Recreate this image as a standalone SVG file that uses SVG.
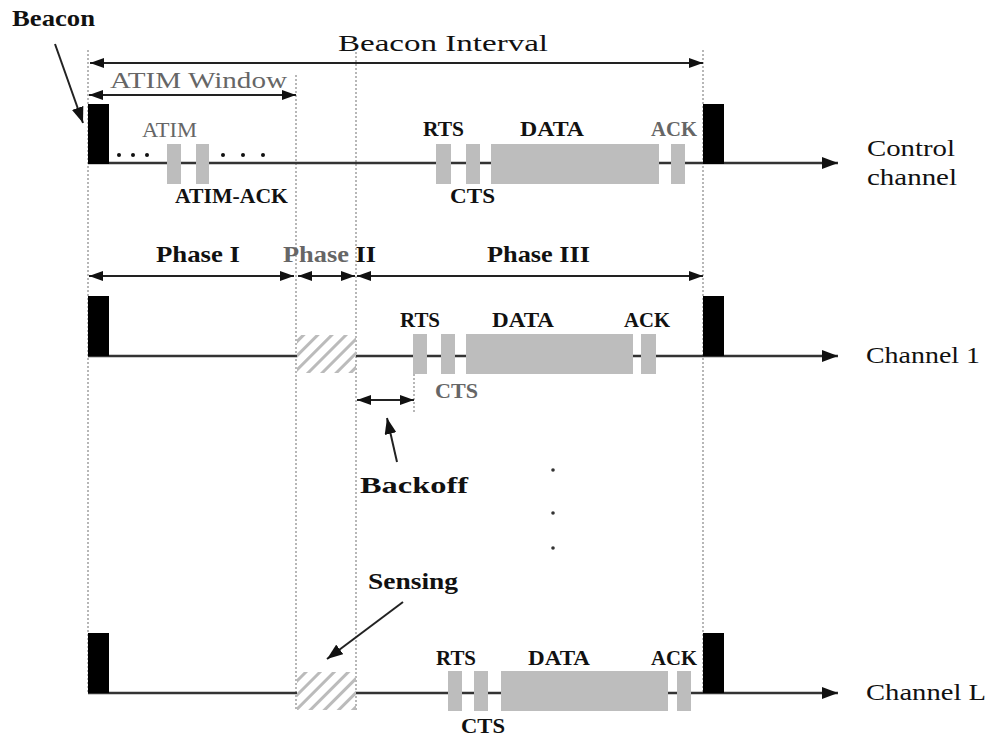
<svg xmlns="http://www.w3.org/2000/svg" width="989" height="739" viewBox="0 0 989 739">
<style>
text{font-family:"Liberation Serif","Times New Roman",serif;fill:#111}
.b{font-weight:bold}
.g{fill:#666}
.L{font-size:24px}
.s{font-size:20px}
.dot{stroke:#888;stroke-width:1.2;stroke-dasharray:2,2;fill:none}
.ax{stroke:#333;stroke-width:2.5;fill:none}
.ar{stroke:#222;stroke-width:2;fill:none}
.pk{fill:#bdbdbd}
.bk{fill:#000}
</style>
<defs>
<marker id="ah" viewBox="0 0 14 10" refX="14" refY="5" markerWidth="14" markerHeight="10" markerUnits="userSpaceOnUse" orient="auto-start-reverse"><path d="M0,0 L14,5 L0,10 z" fill="#111"/></marker>
<marker id="ah2" viewBox="0 0 16 12" refX="16" refY="6" markerWidth="16" markerHeight="12" markerUnits="userSpaceOnUse" orient="auto"><path d="M0,0 L16,6 L0,12 z" fill="#111"/></marker>
<pattern id="hatch" width="10" height="10" patternUnits="userSpaceOnUse" patternTransform="rotate(45)"><rect x="0" y="0" width="3" height="10" fill="#bbb"/></pattern>
</defs>

<g id="guides">
<line class="dot" x1="88" y1="50" x2="88" y2="693"/>
<line class="dot" x1="296" y1="75" x2="296" y2="710"/>
<line class="dot" x1="356" y1="48" x2="356" y2="710"/>
<line class="dot" x1="703" y1="50" x2="703" y2="693"/>
<line class="dot" x1="414" y1="374" x2="414" y2="412"/>
</g>

<g id="connectors">
<line class="ar" x1="90" y1="63" x2="703" y2="63" marker-start="url(#ah)" marker-end="url(#ah)"/>
<line class="ar" x1="89" y1="95" x2="296" y2="95" marker-start="url(#ah)" marker-end="url(#ah)"/>
<line class="ar" x1="89" y1="276" x2="294" y2="276" marker-start="url(#ah)" marker-end="url(#ah)"/>
<line class="ar" x1="298" y1="276" x2="355" y2="276" marker-start="url(#ah)" marker-end="url(#ah)"/>
<line class="ar" x1="357" y1="276" x2="703" y2="276" marker-start="url(#ah)" marker-end="url(#ah)"/>
<line class="ar" x1="357" y1="400" x2="414" y2="400" marker-start="url(#ah)" marker-end="url(#ah)"/>
<line class="ar" x1="55" y1="44" x2="83" y2="123" marker-end="url(#ah2)"/>
<line class="ar" x1="397" y1="462" x2="387" y2="418" marker-end="url(#ah2)"/>
<line class="ar" x1="403" y1="602" x2="327" y2="659" marker-end="url(#ah2)"/>
</g>

<g id="control-channel">
<line class="ax" x1="88" y1="163" x2="838" y2="163" marker-end="url(#ah2)"/>
<rect class="bk" x="88" y="104" width="21" height="60"/>
<rect class="bk" x="703" y="104" width="21" height="60"/>
<g fill="#111"><circle cx="119" cy="155" r="2"/><circle cx="133" cy="155" r="2"/><circle cx="147" cy="155" r="2"/><circle cx="223" cy="155" r="2"/><circle cx="243" cy="155" r="2"/><circle cx="263" cy="155" r="2"/></g>
<rect class="pk" x="167" y="144" width="14" height="40"/>
<rect class="pk" x="196" y="144" width="13" height="40"/>
<rect class="pk" x="436" y="144" width="15" height="40"/>
<rect class="pk" x="466" y="144" width="14" height="40"/>
<rect class="pk" x="491" y="144" width="168" height="40"/>
<rect class="pk" x="671" y="144" width="14" height="40"/>
</g>

<g id="channel-1">
<line class="ax" x1="88" y1="356" x2="297" y2="356"/>
<line class="ax" x1="356" y1="356" x2="838" y2="356" marker-end="url(#ah2)"/>
<rect x="297" y="335" width="59" height="38" fill="url(#hatch)"/>
<rect class="bk" x="88" y="296" width="21" height="60"/>
<rect class="bk" x="703" y="296" width="21" height="60"/>
<rect class="pk" x="413" y="334" width="14" height="40"/>
<rect class="pk" x="441" y="334" width="14" height="40"/>
<rect class="pk" x="466" y="334" width="167" height="40"/>
<rect class="pk" x="641" y="334" width="15" height="40"/>
</g>

<g id="channel-L">
<line class="ax" x1="88" y1="693" x2="297" y2="693"/>
<line class="ax" x1="356" y1="693" x2="838" y2="693" marker-end="url(#ah2)"/>
<rect x="297" y="672" width="59" height="38" fill="url(#hatch)"/>
<rect class="bk" x="88" y="633" width="21" height="60"/>
<rect class="bk" x="703" y="633" width="21" height="60"/>
<rect class="pk" x="448" y="671" width="14" height="40"/>
<rect class="pk" x="474" y="671" width="14" height="40"/>
<rect class="pk" x="501" y="671" width="167" height="40"/>
<rect class="pk" x="677" y="671" width="14" height="40"/>
</g>

<g id="dots" fill="#333"><circle cx="553" cy="470" r="1.8"/><circle cx="553" cy="513" r="1.8"/><circle cx="553" cy="548" r="1.8"/></g>

<g id="labels">
<text class="L b" x="12" y="26" textLength="83" lengthAdjust="spacingAndGlyphs">Beacon</text>
<text class="L" x="338" y="51" textLength="210" lengthAdjust="spacingAndGlyphs">Beacon Interval</text>
<text class="L g" x="110" y="88" textLength="177" lengthAdjust="spacingAndGlyphs">ATIM Window</text>
<text class="s g" x="142" y="137" textLength="55" lengthAdjust="spacingAndGlyphs">ATIM</text>
<text class="s b" x="175" y="203" textLength="113" lengthAdjust="spacingAndGlyphs">ATIM-ACK</text>
<text class="s b" x="423" y="136" textLength="41" lengthAdjust="spacingAndGlyphs">RTS</text>
<text class="s b" x="520" y="136" textLength="64" lengthAdjust="spacingAndGlyphs">DATA</text>
<text class="s b g" x="651" y="136" textLength="46" lengthAdjust="spacingAndGlyphs">ACK</text>
<text class="s b" x="450" y="203" textLength="45" lengthAdjust="spacingAndGlyphs">CTS</text>
<text class="L" x="867" y="156" textLength="88" lengthAdjust="spacingAndGlyphs">Control</text>
<text class="L" x="867" y="185" textLength="90" lengthAdjust="spacingAndGlyphs">channel</text>

<text class="L b" x="156" y="262" textLength="84" lengthAdjust="spacingAndGlyphs">Phase I</text>
<text class="L b" x="283" y="262" textLength="93" lengthAdjust="spacingAndGlyphs"><tspan class="g">Phase </tspan><tspan>II</tspan></text>
<text class="L b" x="487" y="262" textLength="103" lengthAdjust="spacingAndGlyphs">Phase III</text>

<text class="s b" x="400" y="327" textLength="40" lengthAdjust="spacingAndGlyphs">RTS</text>
<text class="s b" x="492" y="327" textLength="62" lengthAdjust="spacingAndGlyphs">DATA</text>
<text class="s b" x="624" y="327" textLength="46" lengthAdjust="spacingAndGlyphs">ACK</text>
<text class="s b g" x="435" y="398" textLength="43" lengthAdjust="spacingAndGlyphs">CTS</text>
<text class="L" x="866" y="363" textLength="114" lengthAdjust="spacingAndGlyphs">Channel 1</text>

<text class="L b" x="360" y="493" textLength="108" lengthAdjust="spacingAndGlyphs">Backoff</text>
<text class="L b" x="368" y="589" textLength="90" lengthAdjust="spacingAndGlyphs">Sensing</text>

<text class="s b" x="436" y="665" textLength="40" lengthAdjust="spacingAndGlyphs">RTS</text>
<text class="s b" x="528" y="665" textLength="62" lengthAdjust="spacingAndGlyphs">DATA</text>
<text class="s b" x="651" y="665" textLength="46" lengthAdjust="spacingAndGlyphs">ACK</text>
<text class="s b" x="461" y="733" textLength="44" lengthAdjust="spacingAndGlyphs">CTS</text>
<text class="L" x="866" y="700" textLength="120" lengthAdjust="spacingAndGlyphs">Channel L</text>
</g>
</svg>
